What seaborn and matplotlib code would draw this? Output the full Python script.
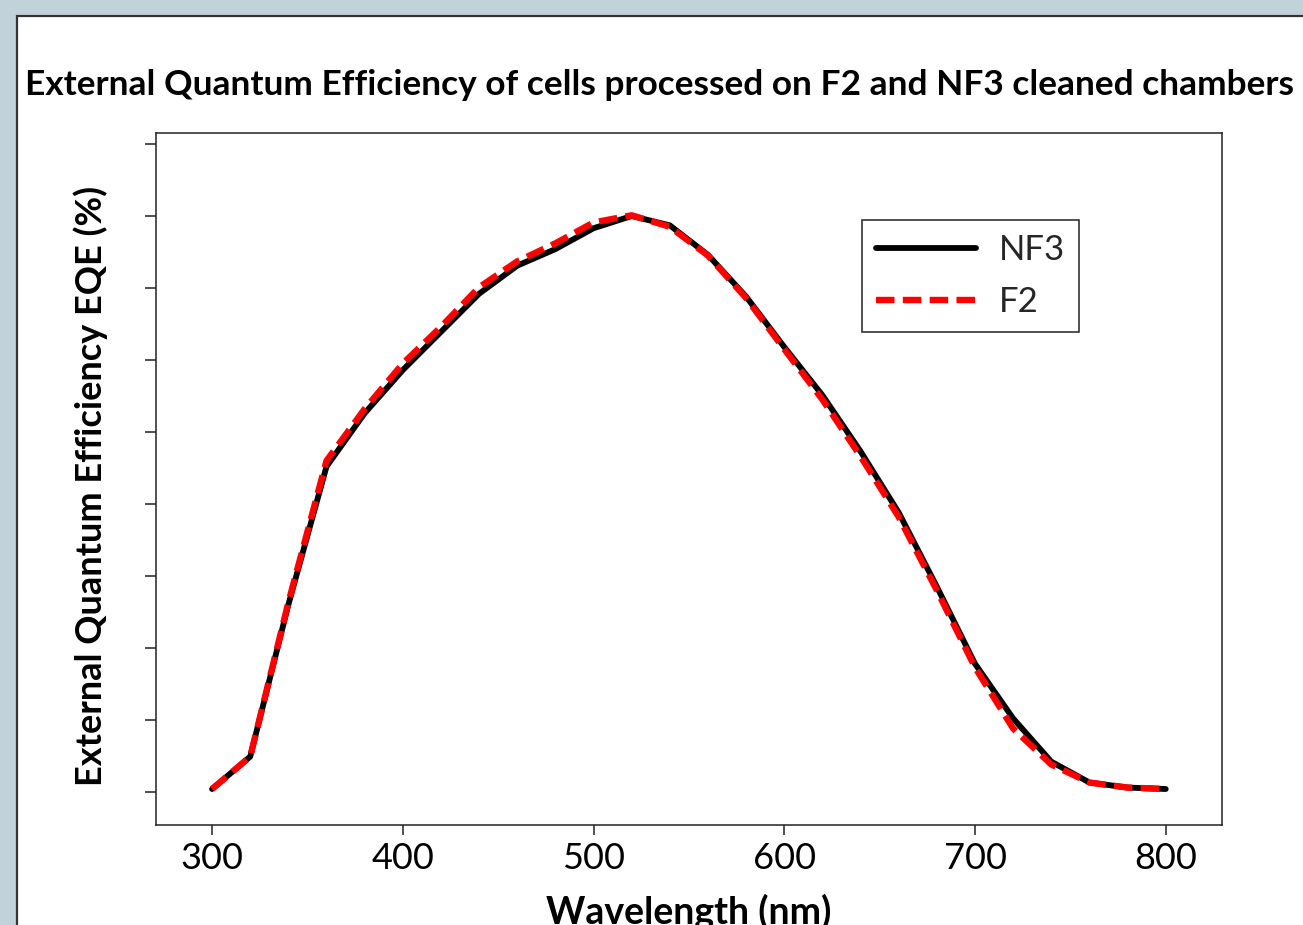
import numpy as np
import pandas as pd
import matplotlib
matplotlib.use("Agg")
import matplotlib.pyplot as plt
import matplotlib.patches as mpatches
import seaborn as sns

# EQE curves (every 20 nm)
wavelength = [300, 320, 340, 360, 380, 400, 420, 440, 460, 480, 500, 520, 540,
              560, 580, 600, 620, 640, 660, 680, 700, 720, 740, 760, 780, 800]
eqe_nf3 = [0.4, 4.9, 26.0, 45.2, 52.6, 58.6, 63.9, 69.2, 73.1, 75.4, 78.3, 80.0, 78.7,
           74.6, 68.8, 61.8, 55.1, 47.3, 38.8, 28.5, 17.8, 10.2, 4.2, 1.3, 0.6, 0.4]
eqe_f2 = [0.4, 4.9, 26.3, 46.0, 53.2, 59.5, 64.6, 70.1, 73.7, 76.2, 79.1, 80.1, 78.5,
          74.5, 68.6, 61.5, 54.5, 46.6, 38.2, 28.0, 17.3, 8.8, 3.8, 1.3, 0.6, 0.4]
series_names = ["NF3", "F2"]
title_text = "External Quantum Efficiency of cells processed on F2 and NF3 cleaned chambers"

sns.set_theme(style="ticks")
plt.rcParams["font.family"] = ["Lato", "DejaVu Sans"]

fig = plt.figure(figsize=(13.03, 9.25), dpi=100)
fig.patch.set_facecolor("#c1d2da")

# white panel with dark border (runs off the right/bottom edge)
panel = mpatches.Rectangle((17 / 1303, -0.1), 1.2, 1.1 - 16 / 925, transform=fig.transFigure,
                           facecolor="white", edgecolor="#333333", linewidth=1.6, zorder=-10)
fig.patches.append(panel)

ax = fig.add_axes([156 / 1303, 1 - 825 / 925, (1222 - 156) / 1303, (825 - 132.5) / 925])
ax.set_facecolor("white")

df = pd.DataFrame({"wl": wavelength, "NF3": eqe_nf3, "F2": eqe_f2})
sns.lineplot(data=df, x="wl", y="NF3", color="black", linewidth=4.2, label=series_names[0], ax=ax)
sns.lineplot(data=df, x="wl", y="F2", color="#ff0000", linewidth=4.6,
             linestyle=(0, (2.9, 1.3)), label=series_names[1], ax=ax)

ax.set_xlim(270.6, 829.5)
ax.set_ylim(-4.6, 91.6)
ax.set_xticks([300, 400, 500, 600, 700, 800])
ax.set_yticks(np.arange(0, 100, 10))
ax.tick_params(axis="y", labelleft=False, length=8, width=1.1, color="#222222", direction="out")
ax.tick_params(axis="x", length=7, width=1.1, color="#222222", direction="out", pad=5,
               labelsize=26, labelcolor="black")
for s in ax.spines.values():
    s.set_visible(True)
    s.set_linewidth(1.1)
    s.set_color("#222222")

ax.set_xlabel("Wavelength (nm)", fontsize=27, fontweight="bold", color="black")
ax.xaxis.set_label_coords(0.5, -0.1)
ax.set_ylabel("External Quantum Efficiency EQE (%)", fontsize=26, fontweight="bold", color="black")
ax.yaxis.set_label_coords(-0.045, 0.49)

leg = ax.legend(loc="upper left", bbox_to_anchor=(0.662, 0.8736), fontsize=25, frameon=True,
                fancybox=False, edgecolor="#222222", framealpha=1, handlelength=2.9,
                handletextpad=0.65, labelspacing=0.58, borderpad=0.4, borderaxespad=0)
leg.get_frame().set_linewidth(1.1)

fig.text(25 / 1303, 1 - 95 / 925, title_text, fontsize=25.4, fontweight="bold",
         ha="left", va="baseline", color="black")

fig.savefig("out.png", dpi=100, facecolor=fig.get_facecolor())
